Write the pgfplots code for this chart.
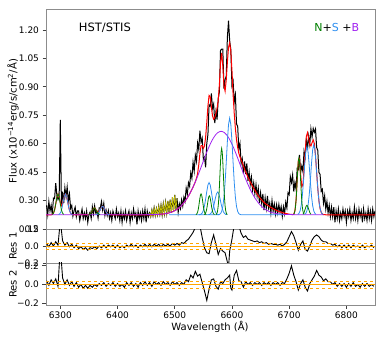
\documentclass[border=0pt]{standalone}
\usepackage{fontspec}
\setmainfont{DejaVu Sans}
\usepackage{pgfplots}
\pgfplotsset{compat=1.18}

\definecolor{mgreen}{HTML}{008000}
\definecolor{mblue}{HTML}{2E8FF0}
\definecolor{mpurple}{HTML}{A020F0}
\definecolor{myellow}{HTML}{C8C400}
\definecolor{morange}{HTML}{FFA500}
\definecolor{spine}{HTML}{8C8C8C}

\pgfplotsset{
  panel/.style={
    scale only axis, width=329pt, anchor=south west,
    xmin=6275, xmax=6850, no markers,
    axis line style={spine, line width=0.8pt},
    tick align=outside, ytick pos=left, xtick pos=bottom,
    major tick length=3.5pt, tick style={black!75, line width=0.6pt},
    ticklabel style={font=\fontsize{9}{10}\selectfont},
    label style={font=\fontsize{10}{12}\selectfont},
  },
}

\begin{document}
\begin{tikzpicture}
\useasboundingbox (0,0) rectangle (385pt,340pt);

% ---------------- main spectrum ----------------
\begin{axis}[panel, at={(46pt,111pt)}, height=220pt,
    ymin=0.15, ymax=1.31,
    ytick={0.15,0.30,0.45,0.60,0.75,0.90,1.05,1.20},
    yticklabels={0.15,0.30,0.45,0.60,0.75,0.90,1.05,1.20},
    xtick=\empty,
    ylabel={Flux (x10\textsuperscript{−14}erg/s/cm\textsuperscript{2}/Å)},
    ylabel style={at={(axis description cs:-0.1,0.49)}, anchor=center},
]
% observed spectrum
\addplot[black, line width=1pt] coordinates {
(6276,.275)(6278,.225)(6280,.295)(6282,.245)(6284,.275)(6286,.227)(6288,.313)(6290,.310)
(6292,.392)(6294,.328)(6296,.305)(6298,.319)(6300,.725)(6302,.269)(6304,.347)(6306,.287)
(6308,.368)(6310,.322)(6312,.372)(6314,.298)(6316,.335)(6318,.259)(6320,.274)(6322,.218)
(6324,.246)(6326,.265)(6328,.215)(6330,.245)(6332,.245)(6334,.195)(6336,.225)(6338,.255)
(6340,.205)(6342,.235)(6344,.205)(6346,.245)(6348,.185)(6350,.225)(6352,.239)(6354,.206)
(6356,.267)(6358,.229)(6360,.272)(6362,.234)(6364,.243)(6366,.208)(6368,.262)(6370,.262)
(6372,.295)(6374,.250)(6376,.285)(6378,.222)(6380,.250)(6382,.221)(6384,.247)(6386,.206)
(6388,.235)(6390,.195)(6392,.245)(6394,.225)(6396,.205)(6398,.255)(6400,.215)(6402,.235)
(6404,.195)(6406,.245)(6408,.185)(6410,.235)(6412,.205)(6414,.245)(6416,.195)(6418,.225)
(6420,.245)(6422,.185)(6424,.235)(6426,.205)(6428,.255)(6430,.215)(6432,.235)(6434,.175)
(6436,.245)(6438,.205)(6440,.235)(6442,.195)(6444,.245)(6446,.205)(6448,.255)(6450,.185)
(6452,.245)(6454,.215)(6456,.235)(6458,.215)(6460,.250)(6462,.220)(6464,.262)(6466,.222)
(6468,.258)(6470,.225)(6472,.270)(6474,.228)(6476,.275)(6478,.225)(6480,.282)(6482,.232)
(6484,.290)(6486,.235)(6488,.298)(6490,.240)(6492,.305)(6494,.238)(6496,.318)(6498,.245)
(6500,.330)(6502,.250)(6504,.312)(6506,.238)(6508,.283)(6510,.258)(6512,.304)(6514,.271)
(6516,.318)(6518,.296)(6520,.365)(6522,.334)(6524,.394)(6526,.375)(6528,.446)(6530,.418)
(6532,.501)(6534,.455)(6536,.539)(6538,.507)(6540,.603)(6542,.569)(6544,.668)(6546,.609)
(6548,.629)(6550,.516)(6552,.528)(6554,.475)(6556,.601)(6558,.648)(6560,.804)(6562,.797)
(6564,.865)(6566,.787)(6568,.809)(6570,.708)(6572,.770)(6574,.727)(6576,.838)(6578,.873)
(6580,1.092)(6582,1.098)(6584,1.098)(6586,.890)(6588,.938)(6590,.956)(6592,1.160)(6594,1.248)
(6596,1.142)(6598,1.097)(6600,.905)(6602,.929)(6604,.820)(6606,.857)(6608,.703)(6610,.692)
(6612,.570)(6614,.600)(6616,.494)(6618,.520)(6620,.442)(6622,.506)(6624,.440)(6626,.496)
(6628,.403)(6630,.450)(6632,.385)(6634,.424)(6636,.355)(6638,.394)(6640,.335)(6642,.384)
(6644,.323)(6646,.365)(6648,.287)(6650,.340)(6652,.283)(6654,.335)(6656,.250)(6658,.314)
(6660,.260)(6662,.325)(6664,.261)(6666,.288)(6668,.234)(6670,.300)(6672,.245)(6674,.281)
(6676,.229)(6678,.277)(6680,.235)(6682,.279)(6684,.238)(6686,.268)(6688,.217)(6690,.267)
(6692,.231)(6694,.291)(6696,.261)(6698,.341)(6700,.331)(6702,.425)(6704,.395)(6706,.435)
(6708,.348)(6710,.395)(6712,.360)(6714,.468)(6716,.463)(6718,.541)(6720,.449)(6722,.482)
(6724,.453)(6726,.560)(6728,.530)(6730,.628)(6732,.568)(6734,.639)(6736,.595)(6738,.678)
(6740,.635)(6742,.680)(6744,.660)(6746,.678)(6748,.580)(6750,.564)(6752,.448)(6754,.438)
(6756,.348)(6758,.359)(6760,.286)(6762,.325)(6764,.255)(6766,.295)(6768,.235)(6770,.275)
(6772,.215)(6774,.265)(6776,.215)(6778,.265)(6780,.185)(6782,.245)(6784,.205)(6786,.255)
(6788,.195)(6790,.235)(6792,.205)(6794,.255)(6796,.215)(6798,.245)(6800,.185)(6802,.245)
(6804,.215)(6806,.255)(6808,.195)(6810,.235)(6812,.205)(6814,.265)(6816,.205)(6818,.245)
(6820,.195)(6822,.255)(6824,.215)(6826,.245)(6828,.185)(6830,.255)(6832,.205)(6834,.235)
(6836,.195)(6838,.255)(6840,.205)(6842,.245)(6844,.195)(6846,.255)(6848,.215)(6850,.245)
};
% masked stretch, drawn in yellow over the black
\addplot[myellow, line width=0.7pt] coordinates {
(6456,.235)(6458,.215)(6460,.250)(6462,.220)(6464,.262)(6466,.222)(6468,.258)(6470,.225)
(6472,.270)(6474,.228)(6476,.275)(6478,.225)(6480,.282)(6482,.232)(6484,.290)(6486,.235)
(6488,.298)(6490,.240)(6492,.305)(6494,.238)(6496,.318)(6498,.245)(6500,.330)(6502,.250)
(6504,.312)
};
% total model
\addplot[red, line width=1pt] coordinates {
(6275,.225)(6284,.225)(6286,.227)(6288,.233)(6290,.250)(6292,.282)(6294,.318)(6296,.335)
(6298,.321)(6300,.291)(6302,.274)(6304,.283)(6306,.310)(6308,.332)(6309,.335)(6310,.332)
(6312,.308)(6314,.275)(6316,.249)(6318,.234)(6320,.228)(6322,.226)(6326,.225)(6350,.226)
(6352,.229)(6354,.236)(6356,.247)(6358,.259)(6360,.262)(6362,.254)(6364,.243)(6366,.238)
(6368,.242)(6370,.252)(6372,.265)(6374,.270)(6376,.265)(6378,.252)(6380,.240)(6382,.231)
(6384,.227)(6386,.226)(6390,.225)(6460,.225)(6472,.227)(6480,.229)(6488,.233)(6496,.241)
(6500,.247)(6504,.254)(6508,.263)(6512,.274)(6516,.288)(6520,.305)(6524,.324)(6528,.346)
(6532,.371)(6536,.399)(6538,.417)(6540,.443)(6542,.489)(6544,.548)(6546,.589)(6548,.589)
(6550,.576)(6552,.588)(6554,.635)(6556,.711)(6558,.798)(6560,.854)(6562,.847)(6564,.795)
(6566,.747)(6568,.729)(6570,.738)(6572,.760)(6574,.787)(6576,.827)(6578,.909)(6580,1.024)
(6582,1.078)(6584,1.010)(6586,.906)(6588,.877)(6590,.936)(6592,1.030)(6594,1.108)(6596,1.132)
(6598,1.087)(6600,.985)(6602,.859)(6604,.760)(6606,.680)(6608,.620)(6610,.580)(6612,.550)
(6614,.530)(6618,.500)(6624,.450)(6630,.410)(6636,.375)(6640,.355)(6646,.325)(6650,.310)
(6656,.290)(6660,.280)(6666,.268)(6670,.260)(6680,.245)(6690,.235)(6700,.228)(6706,.226)
(6708,.228)(6710,.245)(6712,.300)(6714,.408)(6716,.513)(6718,.521)(6720,.439)(6722,.372)
(6724,.383)(6726,.460)(6728,.560)(6730,.638)(6732,.658)(6734,.629)(6736,.595)(6738,.588)
(6740,.605)(6742,.620)(6744,.600)(6746,.538)(6748,.450)(6750,.364)(6752,.298)(6754,.258)
(6756,.238)(6758,.229)(6760,.226)(6764,.225)(6850,.225)
};
% broad component
\addplot[mpurple, line width=0.8pt] coordinates {
(6275,.225)(6440,.225)(6470,.2266)(6481,.2295)(6491,.2357)(6496,.241)(6501,.2483)(6506,.2583)
(6511,.2714)(6516,.2882)(6521,.3093)(6526,.3347)(6531,.3646)(6535,.3915)(6539,.4207)(6543,.4517)
(6547,.4838)(6551,.516)(6555,.5476)(6559,.5773)(6563,.6042)(6567,.6271)(6571,.6452)(6575,.6578)
(6579,.664)(6581,.665)(6583,.664)(6587,.6578)(6591,.6452)(6595,.6271)(6599,.6042)(6603,.5773)
(6607,.5476)(6611,.516)(6615,.4838)(6619,.4517)(6623,.4207)(6627,.3915)(6631,.3646)(6636,.3347)
(6641,.3093)(6646,.2882)(6651,.2714)(6656,.2583)(6661,.2483)(6666,.241)(6671,.2357)(6681,.2295)
(6692,.2266)(6720,.225)(6760,.225)
};
% second (S) components
\addplot[mblue, line width=0.8pt] coordinates {
(6297,.226)(6299,.230)(6301,.240)(6303,.261)(6305,.292)(6307,.322)(6309,.335)(6311,.322)
(6313,.292)(6315,.261)(6317,.240)(6319,.230)(6321,.226)};
\addplot[mblue, line width=0.8pt] coordinates {
(6362,.225)(6364,.227)(6366,.231)(6368,.240)(6370,.252)(6372,.265)(6374,.270)(6376,.265)
(6378,.252)(6380,.240)(6382,.231)(6384,.227)(6386,.225)};
\addplot[mblue, line width=0.8pt] coordinates {
(6542,.225)(6544,.226)(6546,.228)(6548,.2345)(6550,.248)(6552,.272)(6554,.308)(6556,.348)
(6558,.382)(6560,.395)(6562,.382)(6564,.348)(6566,.308)(6568,.272)(6570,.248)(6572,.2345)
(6574,.228)(6576,.226)(6578,.225)};
\addplot[mblue, line width=0.8pt] coordinates {
(6559,.226)(6561,.227)(6563,.232)(6565,.241)(6567,.258)(6569,.283)(6571,.312)(6573,.336)
(6575,.345)(6577,.336)(6579,.312)(6581,.283)(6583,.258)(6585,.241)(6587,.232)(6589,.227)
(6591,.226)};
\addplot[mblue, line width=0.8pt] coordinates {
(6490,.225)(6576,.225)(6578,.227)(6580,.231)(6582,.243)(6584,.268)(6586,.317)(6588,.395)
(6590,.500)(6592,.613)(6594,.701)(6596,.735)(6598,.701)(6600,.613)(6602,.500)(6604,.395)
(6606,.317)(6608,.268)(6610,.243)(6612,.231)(6614,.227)(6616,.225)(6690,.225)};
\addplot[mblue, line width=0.8pt] coordinates {
(6715,.227)(6717,.232)(6719,.245)(6721,.274)(6723,.325)(6725,.400)(6727,.486)(6729,.557)
(6731,.585)(6733,.557)(6735,.486)(6737,.400)(6739,.325)(6741,.274)(6743,.245)(6745,.232)
(6747,.227)};
\addplot[mblue, line width=0.8pt] coordinates {
(6727,.227)(6729,.232)(6731,.246)(6733,.275)(6735,.328)(6737,.405)(6739,.494)(6741,.567)
(6743,.595)(6745,.567)(6747,.494)(6749,.405)(6751,.328)(6753,.275)(6755,.246)(6757,.232)
(6759,.227)};
% narrow (N) components
\addplot[mgreen, line width=0.8pt] coordinates {
(6286,.227)(6288,.233)(6290,.250)(6292,.282)(6294,.318)(6296,.335)(6298,.318)(6300,.282)
(6302,.250)(6304,.233)(6306,.227)};
\addplot[mgreen, line width=0.8pt] coordinates {
(6349.5,.226)(6351.5,.228)(6353.5,.234)(6355.5,.244)(6357.5,.256)(6359.5,.262)(6361.5,.256)
(6363.5,.244)(6365.5,.234)(6367.5,.228)(6369.5,.226)};
\addplot[mgreen, line width=0.8pt] coordinates {
(6537,.226)(6538,.228)(6539,.232)(6540,.240)(6541,.252)(6542,.270)(6543,.292)(6544,.313)
(6545,.329)(6546,.335)(6547,.329)(6548,.313)(6549,.292)(6550,.270)(6551,.252)(6552,.240)
(6553,.232)(6554,.228)(6555,.226)};
\addplot[mgreen, line width=0.8pt] coordinates {
(6551.5,.226)(6552.5,.228)(6553.5,.232)(6554.5,.239)(6555.5,.250)(6556.5,.266)(6557.5,.286)
(6558.5,.305)(6559.5,.320)(6560.5,.325)(6561.5,.320)(6562.5,.305)(6563.5,.286)(6564.5,.266)
(6565.5,.250)(6566.5,.239)(6567.5,.232)(6568.5,.228)(6569.5,.226)};
\addplot[mgreen, line width=0.8pt] coordinates {
(6572,.226)(6573,.229)(6574,.235)(6575,.248)(6576,.272)(6577,.312)(6578,.369)(6579,.437)
(6580,.505)(6581,.556)(6582,.575)(6583,.556)(6584,.505)(6585,.437)(6586,.369)(6587,.312)
(6588,.272)(6589,.248)(6590,.235)(6591,.229)(6592,.226)};
\addplot[mgreen, line width=0.8pt] coordinates {
(6708,.228)(6709,.234)(6710,.245)(6711,.266)(6712,.300)(6713,.348)(6714,.407)(6715,.465)
(6716,.509)(6717,.525)(6718,.509)(6719,.465)(6720,.407)(6721,.348)(6722,.300)(6723,.266)
(6724,.245)(6725,.234)(6726,.228)};
\addplot[mgreen, line width=0.8pt] coordinates {
(6724,.228)(6725,.232)(6726,.237)(6727,.246)(6728,.255)(6729,.265)(6730,.272)(6731,.275)
(6732,.272)(6733,.265)(6734,.255)(6735,.246)(6736,.237)(6737,.232)(6738,.228)};

\node[font=\fontsize{11.5}{13}\selectfont] at (rel axis cs:0.179,0.915) {HST/STIS};
\node[font=\fontsize{11}{13}\selectfont] at (rel axis cs:0.884,0.916)
  {\textcolor{mgreen}{N}+\textcolor{mblue}{S} +\textcolor{mpurple}{B}};
\end{axis}

% ---------------- residuals 1 ----------------
\begin{axis}[panel, at={(46pt,77pt)}, height=34pt,
    ymin=-0.2, ymax=0.2,
    ytick={-0.2,0,0.2}, yticklabels={−0.2,0.0,0.2},
    xtick=\empty,
    ylabel={Res 1},
    ylabel style={at={(axis description cs:-0.1,0.5)}, anchor=center},
]
\addplot[black, line width=0.9pt] coordinates {
(6276,.03)(6280,-.01)(6284,.04)(6288,.00)(6292,.05)(6296,.01)(6300,.30)(6304,.06)
(6308,.01)(6312,.04)(6316,-.01)(6320,.02)(6324,-.02)(6328,.01)(6332,-.03)(6336,-.01)
(6340,-.04)(6344,-.02)(6348,-.05)(6352,-.02)(6356,-.03)(6360,-.01)(6364,-.03)(6368,.00)
(6372,-.02)(6376,.01)(6380,-.02)(6384,.01)(6388,-.01)(6392,.01)(6396,-.02)(6400,.01)
(6404,-.02)(6408,.00)(6412,-.02)(6416,.01)(6420,-.01)(6424,.02)(6428,-.01)(6432,.01)
(6436,-.02)(6440,.01)(6444,-.01)(6448,.02)(6452,-.01)(6456,.02)(6460,-.01)(6464,.02)
(6468,.00)(6472,.02)(6476,-.01)(6480,.02)(6484,.00)(6488,.02)(6492,.00)(6496,.03)
(6500,.01)(6504,.03)(6508,.01)(6512,.04)(6516,.03)(6520,.06)(6524,.08)(6528,.12)
(6532,.16)(6536,.22)(6540,.25)(6544,.24)(6548,.10)(6552,-.02)(6556,-.08)(6560,-.09)
(6564,.04)(6568,.13)(6572,.02)(6576,-.10)(6580,-.03)(6584,-.06)(6588,-.08)(6592,-.19)
(6594,-.25)(6596,-.06)(6600,.08)(6604,.25)(6608,.26)(6612,.24)(6616,.15)(6620,.10)
(6624,.12)(6628,.08)(6632,.07)(6636,.06)(6640,.05)(6644,.06)(6648,.04)(6652,.05)
(6656,.03)(6660,.04)(6664,.02)(6668,.03)(6672,.02)(6676,.02)(6680,.01)(6684,.02)
(6688,.00)(6692,.02)(6696,.05)(6700,.11)(6704,.17)(6708,.12)(6712,.04)(6716,-.05)
(6720,.02)(6724,.06)(6728,-.04)(6732,-.06)(6736,.00)(6740,.07)(6744,.11)(6748,.13)
(6752,.11)(6756,.07)(6760,.05)(6764,.05)(6768,.03)(6772,.03)(6776,.01)(6780,.02)
(6784,-.01)(6788,.01)(6792,-.02)(6796,.01)(6800,-.02)(6804,.01)(6808,-.02)(6812,.01)
(6816,-.01)(6820,.00)(6824,-.02)(6828,.01)(6832,-.02)(6836,.00)(6840,-.01)(6844,.01)
(6848,-.02)
};
\addplot[morange, line width=0.8pt] coordinates {(6275,0) (6850,0)};
\addplot[morange, line width=0.8pt, dashed] coordinates {(6275,0.035) (6850,0.035)};
\addplot[morange, line width=0.8pt, dashed] coordinates {(6275,-0.035) (6850,-0.035)};
\end{axis}

% ---------------- residuals 2 ----------------
\begin{axis}[panel, at={(46pt,35pt)}, height=42pt,
    ymin=-0.22, ymax=0.23,
    ytick={-0.2,0,0.2}, yticklabels={−0.2,0.0,0.2},
    xtick={6300,6400,6500,6600,6700,6800},
    xticklabels={6300,6400,6500,6600,6700,6800},
    xlabel={Wavelength (Å)},
    xlabel style={at={(axis description cs:0.4985,-0.52)}, anchor=center},
    ylabel={Res 2},
    ylabel style={at={(axis description cs:-0.1,0.5)}, anchor=center},
]
\addplot[black, line width=0.9pt] coordinates {
(6276,.04)(6280,-.01)(6284,.05)(6288,.01)(6292,.06)(6296,-.02)(6300,.40)(6304,.07)
(6308,.00)(6312,.05)(6316,-.01)(6320,.03)(6324,-.02)(6328,.02)(6332,-.03)(6336,.00)
(6340,-.04)(6344,-.01)(6348,-.04)(6352,-.01)(6356,-.03)(6360,.00)(6364,-.02)(6368,.01)
(6372,-.01)(6376,.02)(6380,-.02)(6384,.01)(6388,-.01)(6392,.02)(6396,-.02)(6400,.01)
(6404,-.02)(6408,.00)(6412,-.03)(6416,.02)(6420,-.01)(6424,.02)(6428,-.02)(6432,.01)
(6436,-.03)(6440,.02)(6444,-.01)(6448,.03)(6452,-.01)(6456,.02)(6460,-.02)(6464,.03)
(6468,.00)(6472,.02)(6476,-.01)(6480,.03)(6484,.00)(6488,.02)(6492,-.01)(6496,.03)
(6500,.00)(6504,.02)(6508,-.01)(6512,.02)(6516,.00)(6520,.05)(6524,.03)(6528,.10)
(6532,.07)(6536,.14)(6540,.09)(6544,.11)(6548,.02)(6552,-.07)(6556,-.17)(6560,-.05)
(6564,.05)(6568,.06)(6572,-.02)(6576,-.05)(6580,.03)(6584,.01)(6588,.05)(6592,.07)
(6596,.10)(6598,-.04)(6600,-.06)(6604,.10)(6608,.15)(6612,.04)(6616,.03)(6620,-.03)
(6624,.03)(6628,.00)(6632,.02)(6636,-.01)(6640,.02)(6644,.00)(6648,.02)(6652,-.01)
(6656,.02)(6660,.00)(6664,.02)(6668,-.01)(6672,.02)(6676,.00)(6680,.02)(6684,-.01)
(6688,.02)(6692,.01)(6696,.06)(6700,.12)(6704,.20)(6708,.10)(6712,.03)(6716,-.06)
(6720,.01)(6724,.05)(6728,-.03)(6732,-.07)(6736,.01)(6740,.05)(6744,.09)(6748,.15)
(6752,.10)(6756,.08)(6760,.04)(6764,.06)(6768,.03)(6772,.03)(6776,.00)(6780,.02)
(6784,-.02)(6788,.01)(6792,-.02)(6796,.01)(6800,-.03)(6804,.01)(6808,-.02)(6812,.02)
(6816,-.02)(6820,.00)(6824,-.03)(6828,.01)(6832,-.02)(6836,.01)(6840,-.02)(6844,.00)
(6848,-.02)
};
\addplot[morange, line width=0.8pt] coordinates {(6275,0) (6850,0)};
\addplot[morange, line width=0.8pt, dashed] coordinates {(6275,0.035) (6850,0.035)};
\addplot[morange, line width=0.8pt, dashed] coordinates {(6275,-0.04) (6850,-0.04)};
\end{axis}
\end{tikzpicture}
\end{document}
